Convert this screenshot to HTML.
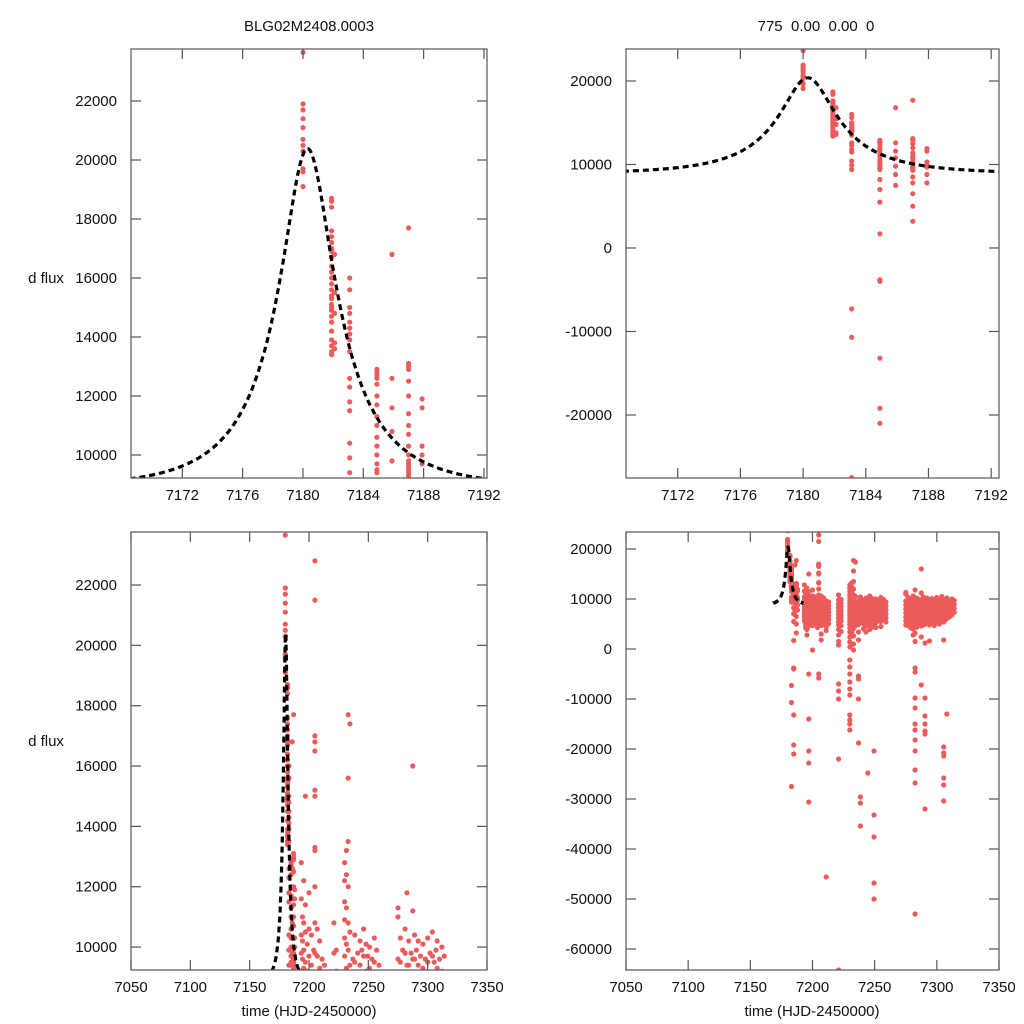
<!DOCTYPE html>
<html><head><meta charset="utf-8">
<style>
html,body{margin:0;padding:0;background:#fff;width:1024px;height:1024px;overflow:hidden;}
svg{display:block;font-family:"Liberation Sans",Arial,sans-serif;}
</style></head>
<body>
<svg id="chart" width="1024" height="1024" viewBox="0 0 1024 1024" xmlns="http://www.w3.org/2000/svg">
<text x="309" y="31" font-size="15" text-anchor="middle" fill="#111">BLG02M2408.0003</text>
<text x="816" y="31" font-size="15" text-anchor="middle" fill="#111" xml:space="preserve">775  0.00  0.00  0</text>
<text x="46" y="283" font-size="15" text-anchor="middle" fill="#111">d flux</text>
<text x="46" y="746" font-size="15" text-anchor="middle" fill="#111">d flux</text>
<text x="309" y="1016" font-size="15" text-anchor="middle" fill="#111">time (HJD-2450000)</text>
<text x="812" y="1016" font-size="15" text-anchor="middle" fill="#111">time (HJD-2450000)</text>
</svg>
<script>
// ---- data: observation nights and fluxes ----
const nightTimes = [7180.0,7181.9,7182.1,7183.1,7184.9,7185.9,7187.0,7187.9,
7193.5,7194.5,7195.5,7197,7198.5,7200,7202,7204,7205,7207,7209,7211,7213,
7221,7223,7230,7231.5,7233,7234.5,7237,7238.5,7241,7243,7244.5,7246,7248,7249.5,7251,7253,7255,7257,7259,
7275,7277,7279,7281,7282.5,7284,7286,7287.5,7289,7290.5,7292,7294,7296,7298,7300,7302,7304,7305.5,7307,7308,7310,7312,7314];
const nightFluxes = [
[23650,21900,21700,21400,21100,20700,20500,20300,19700,19600,19100],
[18700,18600,18400,17600,17400,17200,17000,16900,16700,16400,16200,16000,15800,15600,15400,15300,15100,15000,14900,14700,14500,14200,13900,13700,13500,13400],
[16800,15500,14800,13800,13600],
[16000,15600,15000,14800,14500,14300,14100,13900,13500,12600,12300,11800,11500,10400,9900,9400,-7300,-10700,-27500],
[12900,12800,12700,12600,12400,12000,11700,11300,11000,10600,10300,10000,9700,9500,9400,8200,7000,5500,1700,-3800,-4000,-13200,-19200,-21000],
[16800,12600,11600,10800,9800,8800,7500],
[17700,13100,13000,12900,12500,12000,11400,11000,10700,10300,10000,9800,9700,9600,9500,9400,9300,8500,7800,6500,5000,3200],
[11900,11600,10300,10000,9700,8800,7800],
[12800,11600,10400,9800,9200,8600,8000,7400,6800,6200,5600],
[11000,10200,9600,8900,8300,7700,7100,6600,6000,5400,4800,4200],
[12200,10800,9900,9300,8700,8100,7500,6900,6300,5700,5100,4500,3900,2800],
[15000,11400,10500,9500,8900,8300,7600,7000,6400,5800,5200,4600,-5000,-14000,-20400,-22800,-30600],
[10100,9200,8600,7900,7300,6700,6100,5500,4900],
[11800,10600,9700,9000,8400,7800,7200,6600,6000,5400,4700,-200],
[10400,9400,8700,8100,7500,6900,6300,5700,5000],
[9900,9100,8400,7800,7100,6500,5800,5200,4300],
[22800,21500,17000,16800,16500,15200,15000,13300,13200,12000,10800,9800,8800,7800,6800,5800,4800,-5000,-5800],
[10600,9700,9000,8300,7600,6900,6200,5500,4700,3000,1800],
[10200,9300,8600,7900,7200,6500,5800,5100],
[9600,8800,8100,7400,6700,6000,5300,4500,3700,-45600],
[9400,8700,8000,7300,6600,5900,5100],
[10800,9800,9000,8300,7600,6900,6200,5500,4800,3900,2800,1500,800,-7000,-8400,-10000,-22000,-64200],
[9900,9200,8500,7700,7000,6300,5600,4700,3500],
[12800,12200,11500,10900,10300,9700,9100,8500,7900,7300,6700,6100,5500,4900,4200,3400,2400,1400,400,-2200,-3600,-5000,-6600,-8000,-9200,-13200,-14200,-15000,-16200],
[13200,12400,11300,10100,9300,8500,7700,6900,6100,5300,4500,3300],
[17700,15600,13500,12000,10800,9900,9100,8300,7500,6700,5900,5100,4100,2600,1000,-200],
[17400,10500,9400,8600,7800,7000,6200,5400,4600],
[9600,8800,8000,7200,6400,5600,4900,3400,1800,-5400,-6000,-10000,-18800],
[10400,9500,8700,7900,7100,6300,5500,-29600,-30800,-35400],
[9800,9000,8200,7400,6600,5800,5000,4000],
[10200,9400,8600,7800,7000,6200,5400,4600,3400],
[9900,9100,8300,7500,6700,5900,5100,-24800],
[10600,9700,8900,8100,7300,6500,5700,4900,3900],
[10100,9200,8400,7600,6800,6000,5200,4400],
[9700,8900,8100,7300,6500,5700,4800,-20400,-33200,-37600,-46800,-50000],
[10000,9300,8500,7700,6900,6100,5300,4300],
[9600,8800,8000,7200,6400,5600],
[10300,9500,8700,7900,7100,6300,5500,4500],
[9900,9100,8300,7500,6700,5900],
[9400,8600,7800,7000,6200,5400],
[11300,11000,9600,8800,8000,7200,6400,5600,4800],
[10300,9500,8700,7900,7100,6300,5500,4700],
[9900,9100,8300,7500,6700,5900,5100,4200],
[10600,9800,9000,8200,7400,6600,5800,5000,4000,2800],
[11800,9400,8600,7800,7000,6200,5400,4600,3200,1500,-3800,-4600,-9800,-11800,-15000,-16200,-18200,-20400,-24200,-26800,-53000],
[10200,9400,8600,7800,7000,6200,5400,4400],
[9800,9000,8200,7400,6600,5800,5000],
[16000,11200,9600,8800,8000,7200,6400,5600,4600,2400,-7200],
[10400,9600,8800,8000,7200,6400,5600,4800],
[9900,9100,8300,7500,6700,5900,5000,1200,-9800,-13400,-15000,-16400,-17000,-32000],
[10200,9400,8600,7800,7000,6200,5400],
[9700,8900,8100,7300,6500,5700,4800,1600],
[10100,9300,8500,7700,6900,6100,5300],
[9600,8800,8000,7200,6400,5600,4700],
[10300,9500,8700,7900,7100,6300,5500],
[9800,9000,8200,7400,6600,5800,5000],
[10500,9700,8900,8100,7300,6500,5700],
[9500,8700,7900,7100,6300,5400,1800,-19600,-20800,-21400,-25800,-27200,-30400],
[9900,9100,8300,7500,6700,5900],
[10200,9300,8500,7700,6900,6100,-13000],
[9600,8800,8000,7200,6400],
[10000,9200,8400,7600,6800],
[9700,8900,8100,7300]
];
// ---- model parameters (Paczynski fit) ----
const modelParams = [7180.3, 0.3, 6.0, 4700, 8900]; // t0, u0, tE, Fs, Fb
const modelRange = [7168.5, 7192.5];
// ---- tick labels ----
const xTicksZoom = [7172,7176,7180,7184,7188,7192];
const xTicksFull = [7050,7100,7150,7200,7250,7300,7350];
const yTicksLeft = [10000,12000,14000,16000,18000,20000,22000];
const yTicksTopRight = [-20000,-10000,0,10000,20000];
const yTicksBottomRight = [-60000,-50000,-40000,-30000,-20000,-10000,0,10000,20000];

const NS = "http://www.w3.org/2000/svg";
const svg = document.getElementById('chart');
function mk(tag, attrs, parent){const e=document.createElementNS(NS,tag);for(const k in attrs)e.setAttribute(k,attrs[k]);(parent||svg).appendChild(e);return e;}

const panels = [
 {id:'top-left', box:[131,49,487,478], xd:[7168.6,7192.2], yd:[9220,23763], xt:xTicksZoom, yt:yTicksLeft},
 {id:'top-right', box:[626,49,999,478], xd:[7168.7,7192.5], yd:[-27545,23830], xt:xTicksZoom, yt:yTicksTopRight},
 {id:'bottom-left', box:[131,532,487,970], xd:[7050,7350], yd:[9240,23757], xt:xTicksFull, yt:yTicksLeft},
 {id:'bottom-right', box:[626,532,999,970], xd:[7050,7350], yd:[-64200,23400], xt:xTicksFull, yt:yTicksBottomRight}
];

function model(t){
  const [t0,u0,tE,Fs,Fb]=modelParams;
  const tau=(t-t0)/tE; const u=Math.sqrt(u0*u0+tau*tau);
  const A=(u*u+2)/(u*Math.sqrt(u*u+4));
  return Fb+Fs*(A-1);
}

panels.forEach((p,pi)=>{
  const [x0,y0,x1,y1]=p.box;
  const sx=t=>x0+(t-p.xd[0])/(p.xd[1]-p.xd[0])*(x1-x0);
  const sy=f=>y1-(f-p.yd[0])/(p.yd[1]-p.yd[0])*(y1-y0);
  const g=mk('g',{});
  
  
  const cp=mk('clipPath',{id:'clip'+pi},g);
  mk('rect',{x:x0,y:y0,width:x1-x0,height:y1-y0},cp);
  const pts=mk('g',{'clip-path':'url(#clip'+pi+')',fill:'#ec5b5b'},g);
  
  
  nightTimes.forEach((t,i)=>{
    nightFluxes[i].forEach(f=>{
      const c=mk('circle',{cx:sx(t).toFixed(1),cy:sy(f).toFixed(1),r:2.6},pts);
      
      
    });
  });
  let d='';
  for(let k=0;k<=300;k++){const t=modelRange[0]+(modelRange[1]-modelRange[0])*k/300;d+=(k?'L':'M')+sx(t).toFixed(1)+','+sy(model(t)).toFixed(1);}
  const ml=mk('path',{d:d,fill:'none',stroke:'#000','stroke-width':3.2,'stroke-dasharray':'6,4','clip-path':'url(#clip'+pi+')'},g);
  
  
  const fr=mk('rect',{x:x0,y:y0,width:x1-x0,height:y1-y0,fill:'none',stroke:'#555','stroke-width':1.2},g);
  
  
  p.xt.forEach(v=>{
    const x=sx(v);
    mk('line',{x1:x,y1:y1,x2:x,y2:y1-10,stroke:'#555','stroke-width':1.2},g);
    mk('line',{x1:x,y1:y0,x2:x,y2:y0+10,stroke:'#555','stroke-width':1.2},g);
    const tx=mk('text',{x:x,y:y1+22,'font-size':15,'text-anchor':'middle',fill:'#111'},g);
    tx.textContent=v;
    
    
  });
  p.yt.forEach(v=>{
    const y=sy(v);
    mk('line',{x1:x0,y1:y,x2:x0+10,y2:y,stroke:'#555','stroke-width':1.2},g);
    mk('line',{x1:x1,y1:y,x2:x1-10,y2:y,stroke:'#555','stroke-width':1.2},g);
    const ty=mk('text',{x:x0-14,y:y+5,'font-size':15,'text-anchor':'end',fill:'#111'},g);
    ty.textContent=v;
    
    
  });
});
</script>
</body></html>
